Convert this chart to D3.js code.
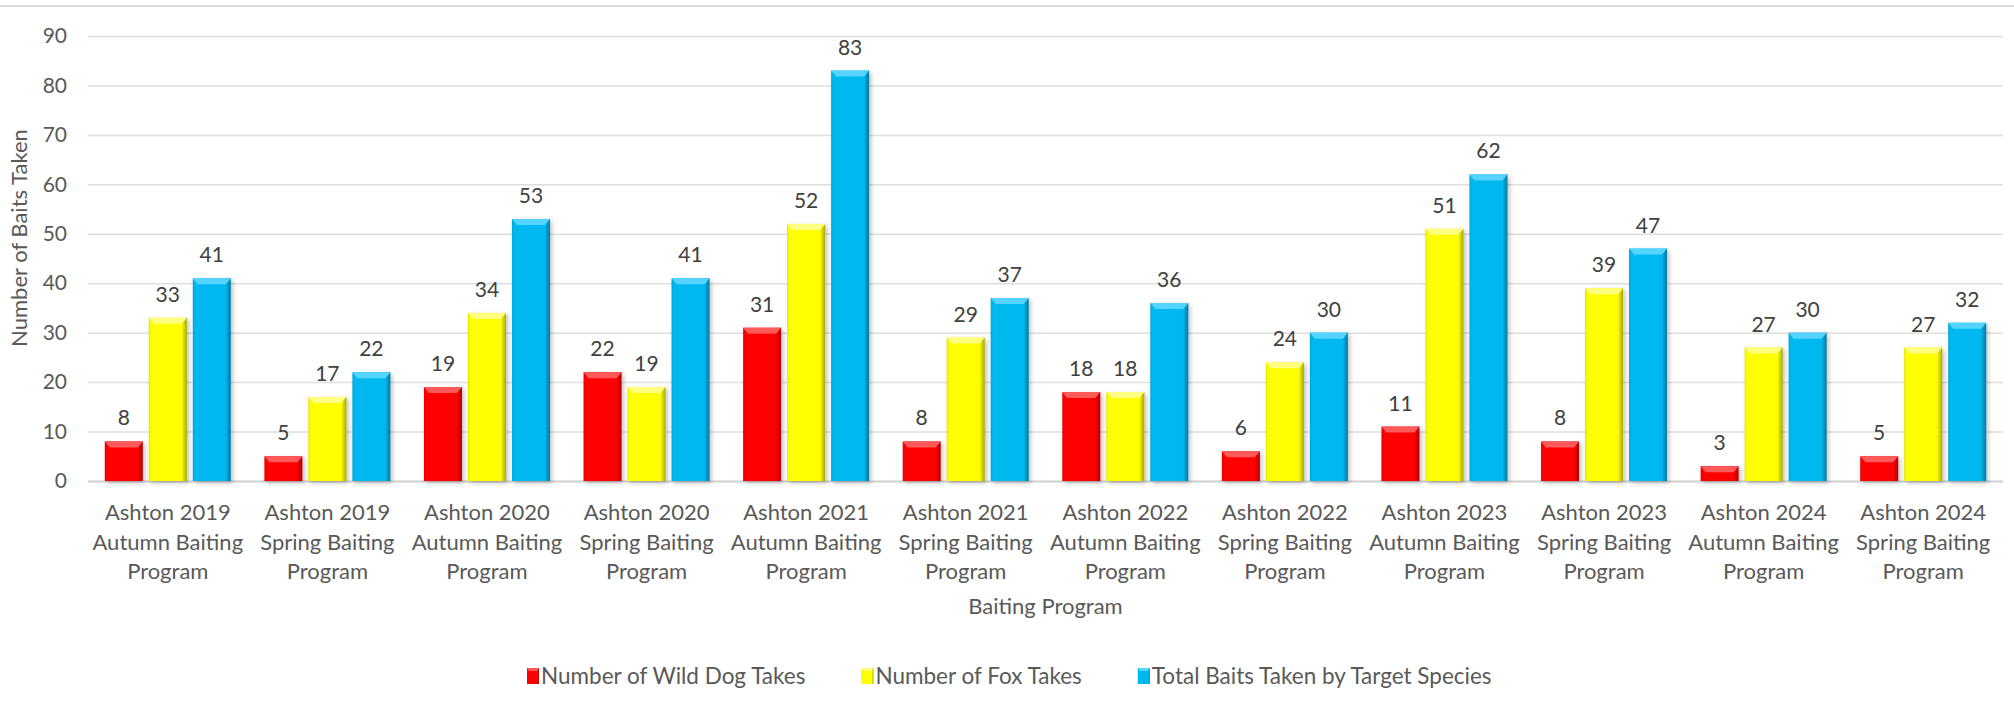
<!DOCTYPE html>
<html>
<head>
<meta charset="utf-8">
<script src="https://cdn.jsdelivr.net/npm/d3@7"></script>
<style>
  html, body { margin: 0; padding: 0; background: #fff; }
  svg { display: block; font-family: Lato, "Open Sans", sans-serif; }
</style>
</head>
<body>
<svg id="chart" width="2014" height="712"></svg>
<script>
// chart data
const categories = [
  "Ashton 2019\nAutumn Baiting\nProgram", "Ashton 2019\nSpring Baiting\nProgram",
  "Ashton 2020\nAutumn Baiting\nProgram", "Ashton 2020\nSpring Baiting\nProgram",
  "Ashton 2021\nAutumn Baiting\nProgram", "Ashton 2021\nSpring Baiting\nProgram",
  "Ashton 2022\nAutumn Baiting\nProgram", "Ashton 2022\nSpring Baiting\nProgram",
  "Ashton 2023\nAutumn Baiting\nProgram", "Ashton 2023\nSpring Baiting\nProgram",
  "Ashton 2024\nAutumn Baiting\nProgram", "Ashton 2024\nSpring Baiting\nProgram"
];
const seriesNames = ["Number of Wild Dog Takes", "Number of Fox Takes", "Total Baits Taken by Target Species"];
const wildDog = [8, 5, 19, 22, 31, 8, 18, 6, 11, 8, 3, 5];
const fox = [33, 17, 34, 19, 52, 29, 18, 24, 51, 39, 27, 27];
const total = [41, 22, 53, 41, 83, 37, 36, 30, 62, 47, 30, 32];
const yTicks = [0, 10, 20, 30, 40, 50, 60, 70, 80, 90];

const seriesValues = [wildDog, fox, total];
const colors = ["#ff0000", "#ffff00", "#00b8f0"];
const lightColors = ["#ff5a5a", "#ffff80", "#55d4ff"];
const darkColors = ["#b00000", "#a8a800", "#00789e"];

const svg = d3.select("#chart");
const plotLeft = 88, plotRight = 2003, plotTop = 36, plotBottom = 481;
const textColor = "#595959";

const x = d3.scaleBand().domain(d3.range(categories.length)).range([plotLeft, plotRight]);
const groupW = 126;
const xs = d3.scaleBand().domain(d3.range(3)).range([0, groupW]).paddingInner(6 / 44);
const y = d3.scaleLinear().domain([0, 90]).range([plotBottom, plotTop]);

const defs = svg.append("defs");
colors.forEach((c, i) => {
  const g = defs.append("linearGradient").attr("id", "grad" + i)
    .attr("x1", "0%").attr("x2", "100%").attr("y1", "0%").attr("y2", "0%");
  g.append("stop").attr("offset", "0%").attr("stop-color", d3.color(c).darker(0.3));
  g.append("stop").attr("offset", "6%").attr("stop-color", c);
  g.append("stop").attr("offset", "86%").attr("stop-color", c);
  g.append("stop").attr("offset", "100%").attr("stop-color", darkColors[i]);
});
const shadow = defs.append("filter").attr("id", "shadow")
  .attr("x", "-20%").attr("y", "-20%").attr("width", "150%").attr("height", "150%");
shadow.append("feDropShadow").attr("dx", 2).attr("dy", 2).attr("stdDeviation", 2)
  .attr("flood-color", "#000").attr("flood-opacity", 0.25);

// chart frame top edge
svg.append("line").attr("x1", 0).attr("x2", 2014).attr("y1", 6).attr("y2", 6)
  .attr("stroke", "#d9d9d9").attr("stroke-width", 2);

// y axis with gridlines
const yAxis = svg.append("g")
  .attr("transform", `translate(${plotLeft},0)`)
  .call(d3.axisLeft(y).tickValues(yTicks).tickSize(-(plotRight - plotLeft)).tickPadding(21));
yAxis.select(".domain").remove();
yAxis.selectAll("line").attr("stroke", d => d === 0 ? "#d0d0d0" : "#dedede")
  .attr("stroke-width", d => d === 0 ? 2 : 1.5);
yAxis.selectAll("text").attr("fill", textColor).style("font-size", "21px")
  .style("font-family", "Lato, sans-serif");

// category labels
const xLab = svg.append("g");
categories.forEach((c, i) => {
  const t = xLab.append("text")
    .attr("text-anchor", "middle")
    .attr("fill", textColor)
    .style("font-size", "22px");
  c.split("\n").forEach((line, j) => {
    t.append("tspan").attr("x", x(i) + x.bandwidth() / 2).attr("y", plotBottom + 39 + j * 29.5).text(line);
  });
});

// bars
const off = (x.bandwidth() - groupW) / 2;
seriesValues.forEach((vals, s) => {
  const g = svg.append("g");
  vals.forEach((v, i) => {
    const bx = x(i) + off + xs(s);
    const bw = xs.bandwidth();
    const by = y(v);
    const bh = plotBottom - by;
    const bar = g.append("g");
    bar.append("rect")
      .attr("x", bx).attr("y", by).attr("width", bw).attr("height", bh)
      .attr("fill", `url(#grad${s})`)
      .attr("filter", "url(#shadow)");
    const bev = Math.min(6, bh);
    bar.append("path")
      .attr("d", `M${bx},${by} L${bx + bw},${by} L${bx + bw - 5},${by + bev} L${bx + 5},${by + bev} Z`)
      .attr("fill", lightColors[s]);
    g.append("text")
      .attr("x", bx + bw / 2)
      .attr("y", by - 16)
      .attr("text-anchor", "middle")
      .attr("fill", "#404040")
      .style("font-size", "21px")
      .text(v);
  });
});

// axis titles
svg.append("text")
  .attr("x", (plotLeft + plotRight) / 2).attr("y", 614)
  .attr("text-anchor", "middle").attr("fill", textColor)
  .style("font-size", "22px").text("Baiting Program");
svg.append("text")
  .attr("transform", "translate(27,238) rotate(-90)")
  .attr("text-anchor", "middle").attr("fill", textColor)
  .style("font-size", "22px").text("Number of Baits Taken");

// legend
const legend = svg.append("g");
let lx = 527;
seriesNames.forEach((name, i) => {
  const lg = legend.append("g").attr("transform", `translate(${lx},668)`);
  lg.append("rect").attr("width", 12).attr("height", 16).attr("fill", `url(#grad${i})`);
  lg.append("path").attr("d", "M0,0 L12,0 L10,3 L2,3 Z").attr("fill", lightColors[i]);
  const t = lg.append("text").attr("x", 14).attr("y", 16)
    .attr("fill", textColor).style("font-size", "22.5px").text(name);
  lx += 14 + t.node().getComputedTextLength() + 56;
});
</script>
</body>
</html>
